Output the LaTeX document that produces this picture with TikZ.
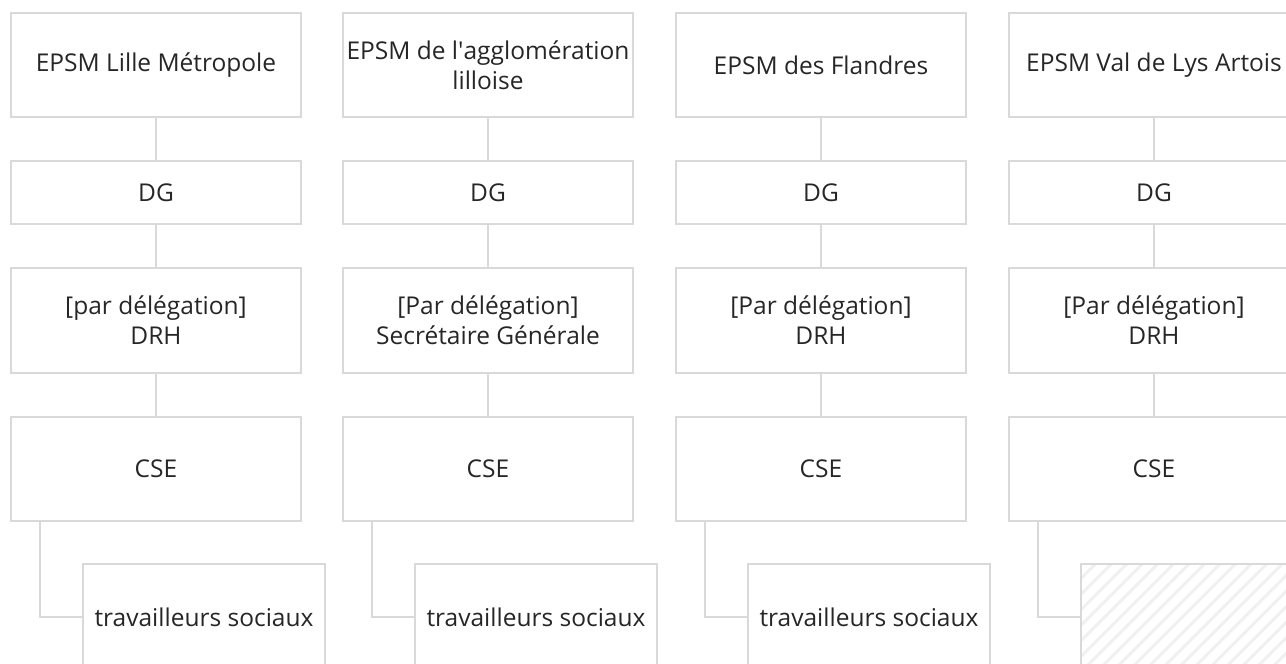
\documentclass[tikz,border=0pt]{standalone}
\usepackage{fontspec}
\setmainfont{Open Sans}
\usetikzlibrary{patterns.meta}

\tikzset{
  boite/.style={draw=gray!30, line width=2.5pt, minimum width=290pt, inner sep=0pt, align=center, text=black!85},
  feuille/.style={boite, minimum width=242pt, minimum height=106pt},
  lien/.style={draw=gray!30, line width=2.5pt},
}

\begin{document}
\begin{tikzpicture}[x=1pt,y=-1pt,font=\fontsize{24.5}{30}\selectfont]
    % Cadre
    \useasboundingbox (0,0) rectangle (1286,664);

    % Établissements
    \node[boite, minimum height=104pt] (etab1) at (156,65) {EPSM Lille Métropole};
    \node[boite, minimum height=104pt] (etab2) at (488,65) {EPSM de l\textquotesingle agglomération\\lilloise};
    \node[boite, minimum height=104pt] (etab3) at (821,65) {EPSM des Flandres};
    \node[boite, minimum height=104pt] (etab4) at (1154,65) {EPSM Val de Lys Artois};

    % Directions générales
    \foreach \i/\x in {1/156,2/488,3/821,4/1154}
    \node[boite, minimum height=63pt] (dg\i) at (\x,192.5) {DG};

    % Délégations
    \node[boite, minimum height=105pt] (drh1) at (156,320.5) {[par délégation]\\DRH};
    \node[boite, minimum height=105pt] (drh2) at (488,320.5) {[Par délégation]\\Secrétaire Générale};
    \node[boite, minimum height=105pt] (drh3) at (821,320.5) {[Par délégation]\\DRH};
    \node[boite, minimum height=105pt] (drh4) at (1154,320.5) {[Par délégation]\\DRH};

    % CSE
    \foreach \i/\x in {1/156,2/488,3/821,4/1154}
    \node[boite, minimum height=104pt] (cse\i) at (\x,469) {CSE};

    % Travailleurs sociaux
    \node[feuille] (ts1) at (204,617) {travailleurs sociaux};
    \node[feuille] (ts2) at (536,617) {travailleurs sociaux};
    \node[feuille] (ts3) at (869,617) {travailleurs sociaux};
    \node[feuille, pattern={Lines[angle=45,distance=11pt,line width=3pt]}, pattern color=gray!12] (ts4) at (1202,617) {};

    % Liens
    \foreach \i in {1,...,4}
    {
    \draw[lien] (etab\i) -- (dg\i);
    \draw[lien] (dg\i) -- (drh\i);
    \draw[lien] (drh\i) -- (cse\i);
    \draw[lien] ([xshift=-116pt]cse\i.south) |- (ts\i.west);
    }
\end{tikzpicture}
\end{document}
